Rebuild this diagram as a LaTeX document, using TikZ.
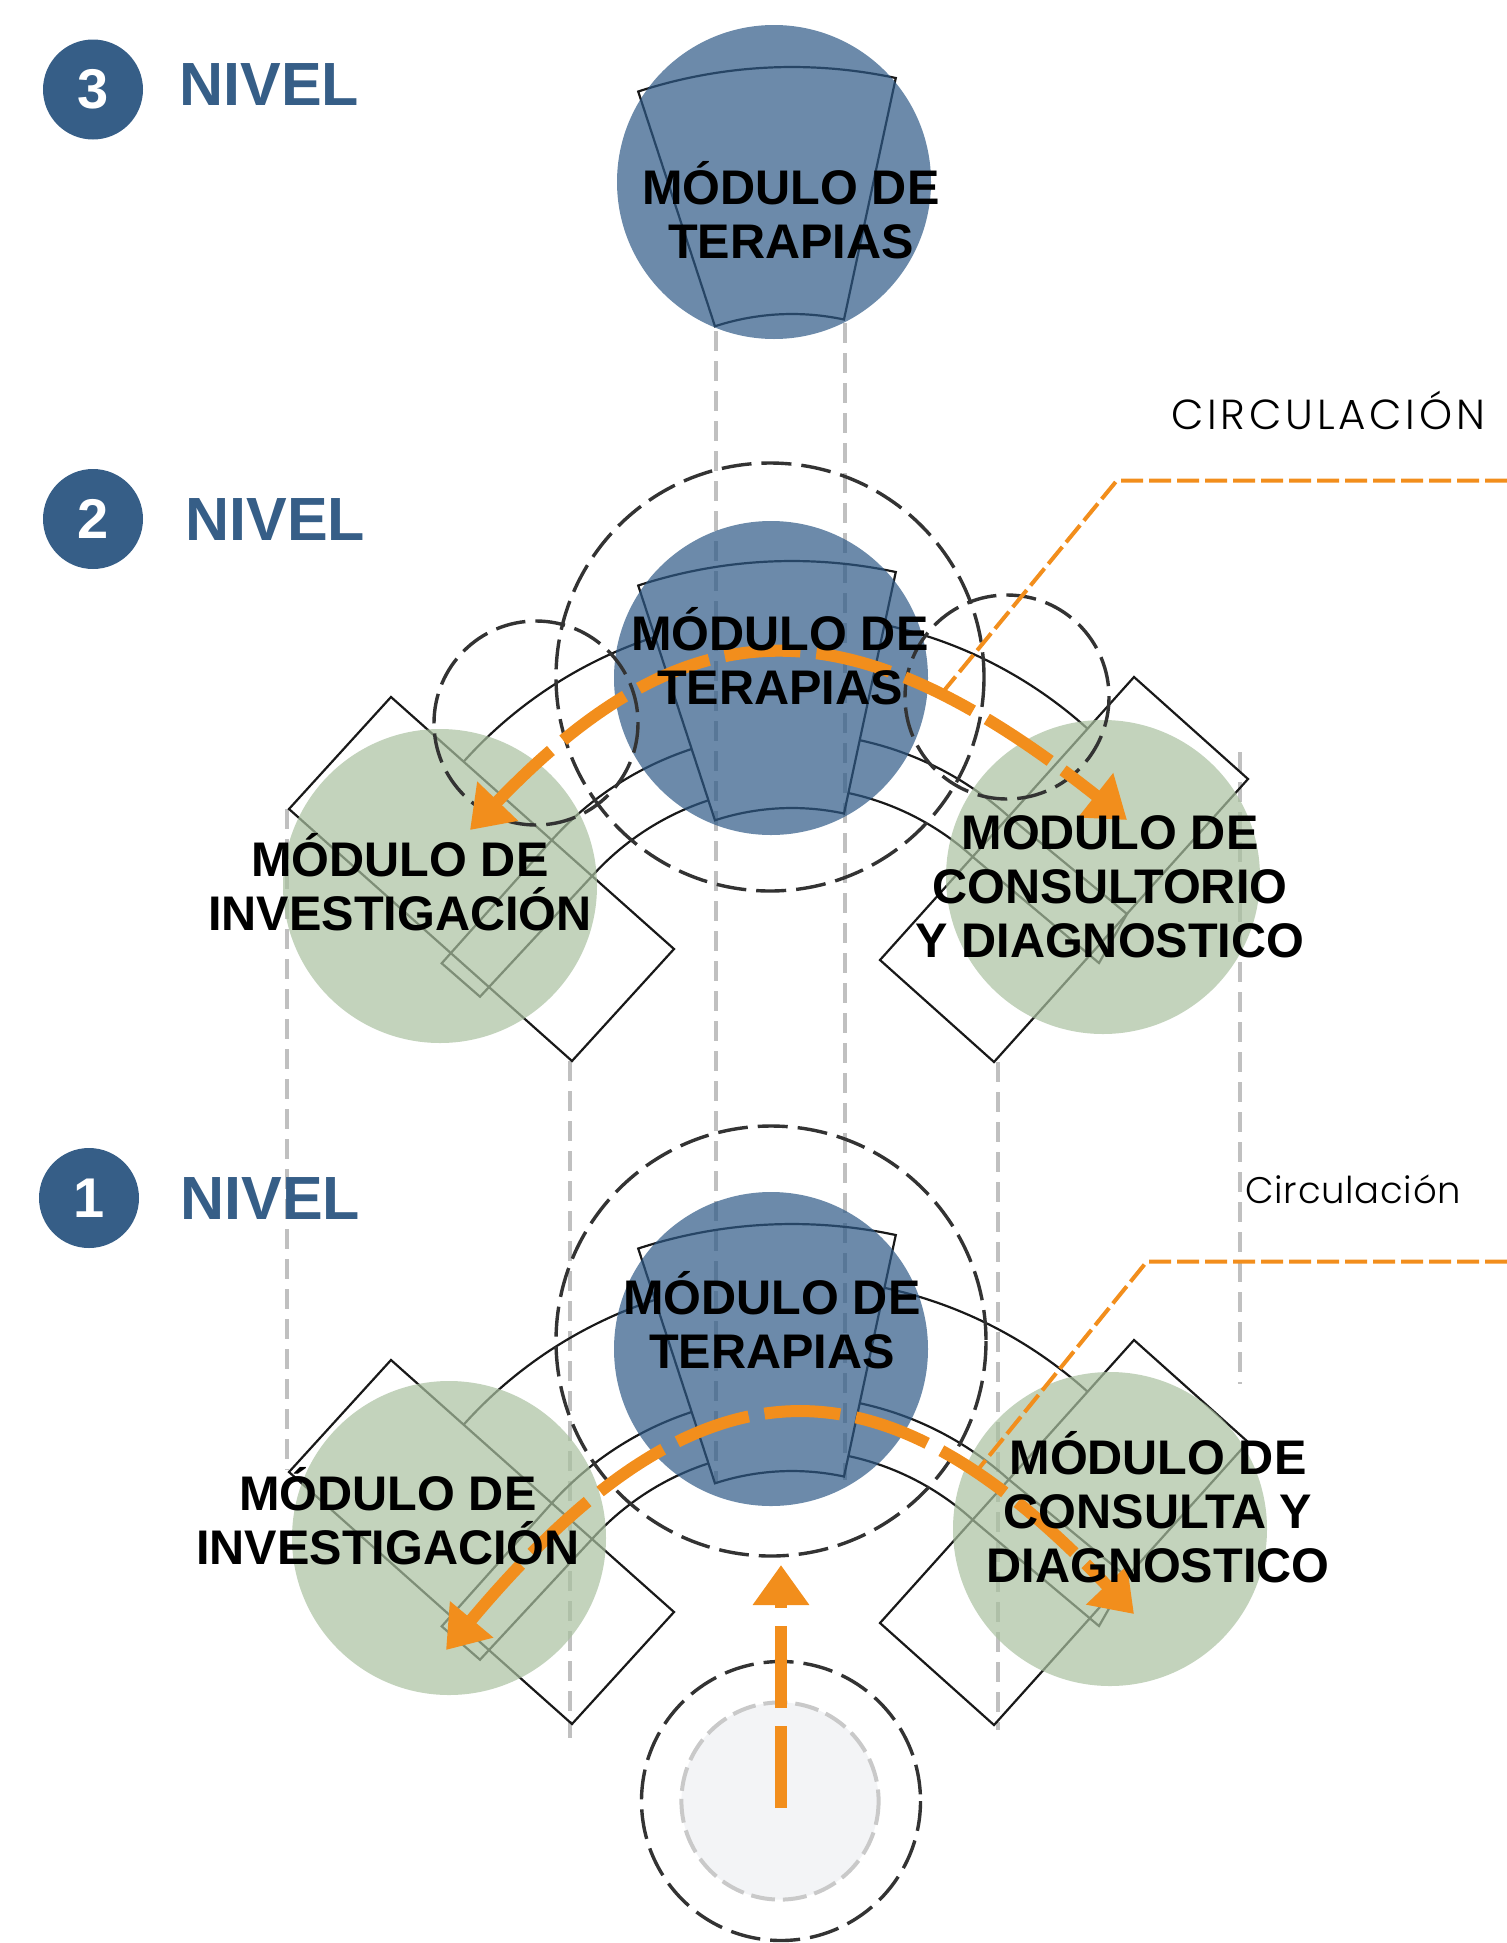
\documentclass[tikz,border=0pt]{standalone}
\usepackage{fontspec}
\setmainfont{Liberation Sans}
\newfontfamily\circfont{Poppins Light}[LetterSpace=9]
\newfontfamily\circfontb{Poppins Light}[LetterSpace=2]
\usetikzlibrary{arrows.meta}
\definecolor{azul}{RGB}{54,94,135}
\definecolor{azulf}{RGB}{45,89,134}
\definecolor{verdef}{RGB}{169,192,159}
\definecolor{naranja}{RGB}{242,142,28}
\definecolor{gris}{RGB}{192,192,192}
\definecolor{grisclaro}{RGB}{243,244,246}

\tikzset{
  plano/.style={draw=black!90, line width=1.1pt},
  guia/.style={draw=gris, line width=1.7pt, dash pattern=on 10pt off 5pt},
  limite/.style={draw=black!80, line width=1.7pt, dash pattern=on 15pt off 5pt},
  flujo/.style={draw=naranja, line width=6pt, dash pattern=on 38pt off 8pt, >={Triangle[length=20pt,width=27pt]}},
  lider/.style={draw=naranja, line width=2pt, dash pattern=on 11pt off 3pt},
  azulmod/.style={circle, fill=azulf, fill opacity=0.7, minimum size=157pt, inner sep=0pt},
  verdemod/.style={circle, fill=verdef, fill opacity=0.7, minimum size=157pt, inner sep=0pt},
  modulo/.style={font=\bfseries\fontsize{24.3}{27}\selectfont, align=center, inner sep=0pt},
  nivel/.style={font=\bfseries\fontsize{30.5}{32}\selectfont, text=azul, anchor=west, inner sep=0pt},
  numero/.style={circle, fill=azul, minimum size=50pt, inner sep=0pt, text=white, font=\bfseries\fontsize{28}{28}\selectfont}
}

% alas del edificio (nivel 2, se desplaza para el nivel 1)
\newcommand{\planoalas}{%
\draw[plano] (391,697) -- (674,949) -- (572,1061) -- (289,809) -- cycle;
\draw[plano] (1134,677) -- (1248,779) -- (994,1062) -- (880,960) -- cycle;
\draw[plano] (792,1056) ++(251.9:441) arc[start angle=251.9,end angle=221.8,radius=441];
\draw[plano] (792,1056) ++(282.1:441) arc[start angle=282.1,end angle=312,radius=441];
\draw[plano] (792,1056) ++(251.9:323) arc[start angle=251.9,end angle=222.4,radius=323] -- (441.7,963.3) -- (480,996.7) -- (593,875) arc[start angle=222.3,end angle=251.9,radius=269];
\draw[plano] (792,1056) ++(282.1:323) arc[start angle=282.1,end angle=311.8,radius=323] -- (1127,914) -- (1099,963) -- (973.7,857.7) arc[start angle=312.5,end angle=282.1,radius=269];
\draw[plano] (792,1056) ++(251.9:495) arc[start angle=251.9,end angle=282.1,radius=495] -- ++(282.1:-247) arc[start angle=282.1,end angle=251.9,radius=248] -- cycle;
}

\begin{document}
\begin{tikzpicture}[x=0.5pt,y=-0.5pt]
\useasboundingbox (0,0) rectangle (1507,1943);

\draw[guia] (716,331) -- (716,1484);
\draw[guia] (845,323) -- (845,1480);
\draw[guia] (287,809) -- (287,1470);
\draw[guia] (570,1061) -- (570,1738);
\draw[guia] (998,1062) -- (998,1730);
\draw[guia] (1240,752) -- (1240,1384);

% nivel 3
\draw[plano] (792,562) ++(251.9:495) arc[start angle=251.9,end angle=282.1,radius=495] -- ++(282.1:-247) arc[start angle=282.1,end angle=251.9,radius=248] -- cycle;
% nivel 2
\planoalas
% nivel 1
\begin{scope}[shift={(0,663)}]
\planoalas
\end{scope}

\node[azulmod] (ter3) at (774,182) {};
\node[azulmod] (ter2) at (771,678) {};
\node[azulmod] (ter1) at (771,1349) {};
\node[verdemod] (inv2) at (440,886) {};
\node[verdemod] (con2) at (1103,877) {};
\node[verdemod] (inv1) at (449,1538) {};
\node[verdemod] (con1) at (1110,1529) {};

\draw[limite] (770,677) circle[radius=214];
\draw[limite] (771,1341) circle[radius=215];
\draw[limite] (536,723) circle[radius=102];
\draw[limite] (1007,697) circle[radius=102];
\draw[limite] (781,1801) circle[radius=139.5];
\draw[draw=gris!85, fill=grisclaro, line width=2pt, dash pattern=on 12pt off 4pt] (780,1801) circle[radius=98.6];

\coordinate (l2a) at (1507,480.6);
\coordinate (l2b) at (1116.8,480.6);
\coordinate (l2c) at (944.7,689.8);
\coordinate (l1a) at (1507,1261.7);
\coordinate (l1b) at (1146.7,1261.7);
\coordinate (l1c) at (976,1472);
\draw[lider] (l2a) -- (l2b) -- (l2c);
\draw[lider] (l1a) -- (l1b) -- (l1c);

\coordinate (f2i) at (470,830);
\coordinate (f2c) at (1127,820);
\coordinate (f1i) at (446,1650);
\coordinate (f1c) at (1134,1614);
\coordinate (ent) at (781,1808);
\coordinate (entf) at (781,1565);
\draw[flujo,<->] (f2i) .. controls (690,601) and (850,601) .. (f2c);
\draw[flujo,<->] (f1i) .. controls (700,1347) and (880,1347) .. (f1c);
\draw[flujo,->, dash pattern=on 41pt off 9pt] (ent) -- (entf);

\node[numero] (n3) at (93,89.5) {3};
\node[numero] (n2) at (93,519) {2};
\node[numero] (n1) at (89,1198) {1};
\node[nivel] (niv3) at (179,85) {NIVEL};
\node[nivel] (niv2) at (185,519.5) {NIVEL};
\node[nivel] (niv1) at (180,1198.5) {NIVEL};

\node[modulo] (t-ter3) at (791,210.5) {MÓDULO DE\\TERAPIAS};
\node[modulo] (t-ter2) at (780,656) {MÓDULO DE\\TERAPIAS};
\node[modulo] (t-ter1) at (772,1320) {MÓDULO DE\\TERAPIAS};
\node[modulo] (t-inv2) at (400,882) {MÓDULO DE\\INVESTIGACIÓN};
\node[modulo] (t-con2) at (1110,887) {MODULO DE\\CONSULTORIO\\Y DIAGNOSTICO};
\node[modulo] (t-inv1) at (388,1516.5) {MÓDULO DE\\INVESTIGACIÓN};
\node[modulo] (t-con1) at (1158,1507) {MÓDULO DE\\CONSULTA Y\\DIAGNOSTICO};

\node[anchor=base west, inner sep=0pt, font=\circfont\fontsize{21}{21}\selectfont] (circ2) at (1171,429) {CIRCULACIÓN};
\node[anchor=base west, inner sep=0pt, font=\circfontb\fontsize{18.5}{18.5}\selectfont] (circ1) at (1245,1203) {Circulación};

\end{tikzpicture}
\end{document}
